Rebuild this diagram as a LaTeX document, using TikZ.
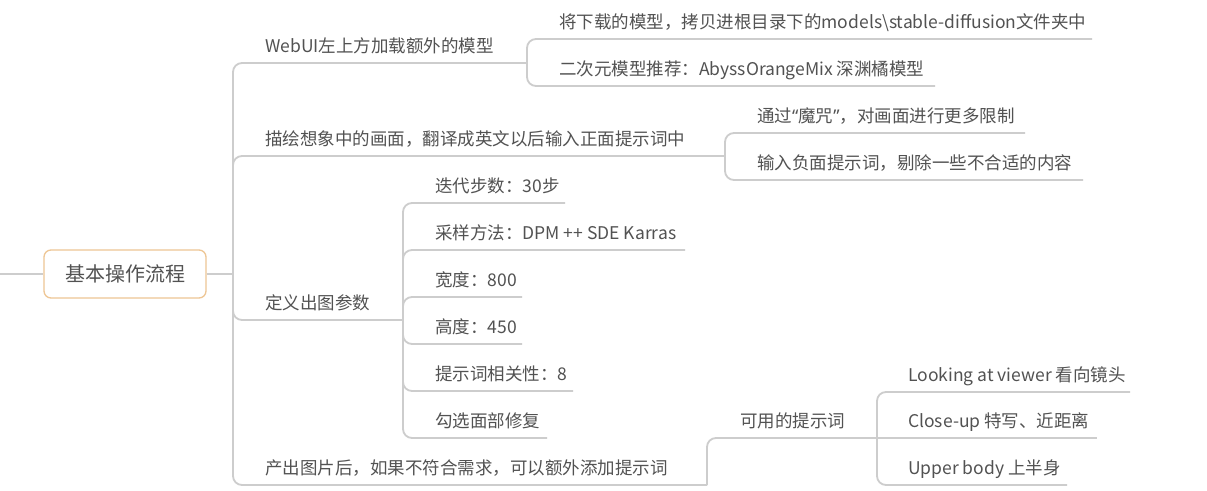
\documentclass[tikz,border=0pt]{standalone}
\usepackage{fontspec}
\setmainfont{Noto Sans CJK SC}
\newfontfamily\latinq{Noto Sans}
\definecolor{textc}{RGB}{82,82,82}
\definecolor{linec}{RGB}{205,205,205}
\definecolor{rootc}{RGB}{238,198,148}
\begin{document}
\begin{tikzpicture}[x=1pt,y=-1pt,
  link/.style={draw=linec, line width=1.8pt, rounded corners=9pt},
  txt/.style={anchor=base west, inner sep=0pt, text=textc, font=\fontsize{17.5}{20}\selectfont},
  rootbox/.style={draw=rootc, line width=1.3pt, rounded corners=7pt, fill=white, text=textc,
    font=\fontsize{20}{24}\selectfont, minimum width=162pt, minimum height=48pt, inner sep=0pt}]
\useasboundingbox (0,0) rectangle (1207,490);
\fill[white] (0,0) rectangle (1207,490);

% root
\node[rootbox] (root) at (125,274) {基本操作流程};
\coordinate (lft) at (0,274);
\coordinate (j0) at (233,274);

% level-1 underline ends (junctions)
\coordinate (l1a) at (527,63);
\coordinate (l1b) at (725,156);
\coordinate (l1c) at (403,320);
\coordinate (l1d) at (707,485);

% level-2 underline ends
\coordinate (a1) at (1092,39);
\coordinate (a2) at (935,86);
\coordinate (b1) at (1025,133);
\coordinate (b2) at (1083,180);
\coordinate (c1) at (565,203);
\coordinate (c2) at (685,250);
\coordinate (c3) at (522,297);
\coordinate (c4) at (522,344);
\coordinate (c5) at (573,391);
\coordinate (c6) at (547,438);
\coordinate (d1) at (877,438);
% level-3
\coordinate (e1) at (1130,392);
\coordinate (e2) at (1097,438);
\coordinate (e3) at (1067,485);

% connectors
\draw[link] (lft) -- (root.west);
\draw[link] (root.east) -- (j0);
\draw[link] (j0) |- (l1a);
\draw[link] (j0) |- (l1b);
\draw[link] (j0) |- (l1c);
\draw[link] (j0) |- (l1d);
\draw[link] (l1a) |- (a1);
\draw[link] (l1a) |- (a2);
\draw[link] (l1b) |- (b1);
\draw[link] (l1b) |- (b2);
\draw[link] (l1c) |- (c1);
\draw[link] (l1c) |- (c2);
\draw[link] (l1c) |- (c3);
\draw[link] (l1c) |- (c4);
\draw[link] (l1c) |- (c5);
\draw[link] (l1c) |- (c6);
\draw[link] (l1d) |- (d1);
\draw[link] (d1) |- (e1);
\draw[link] (d1) -- (e2);
\draw[link] (d1) |- (e3);

% texts
\node[txt] (ta) at (265,52) {WebUI左上方加载额外的模型};
\node[txt] (tb) at (265,145) {描绘想象中的画面，翻译成英文以后输入正面提示词中};
\node[txt] (tc) at (265,309) {定义出图参数};
\node[txt] (td) at (265,474) {产出图片后，如果不符合需求，可以额外添加提示词};

\node[txt] (ta1) at (559,28) {将下载的模型，拷贝进根目录下的models\textbackslash stable-diffusion文件夹中};
\node[txt] (ta2) at (559,75) {二次元模型推荐：AbyssOrangeMix 深渊橘模型};
\node[txt] (tb1) at (757,122) {通过{\latinq “}魔咒{\latinq ”}，对画面进行更多限制};
\node[txt] (tb2) at (757,169) {输入负面提示词，剔除一些不合适的内容};
\node[txt] (tc1) at (435,192) {迭代步数：30步};
\node[txt] (tc2) at (435,239) {采样方法：DPM ++ SDE Karras};
\node[txt] (tc3) at (435,286) {宽度：800};
\node[txt] (tc4) at (435,333) {高度：450};
\node[txt] (tc5) at (435,380) {提示词相关性：8};
\node[txt] (tc6) at (435,427) {勾选面部修复};
\node[txt] (td1) at (740,427) {可用的提示词};
\node[txt] (te1) at (908,381) {Looking at viewer 看向镜头};
\node[txt] (te2) at (908,427) {Close-up 特写、近距离};
\node[txt] (te3) at (908,474) {Upper body 上半身};
\end{tikzpicture}
\end{document}
